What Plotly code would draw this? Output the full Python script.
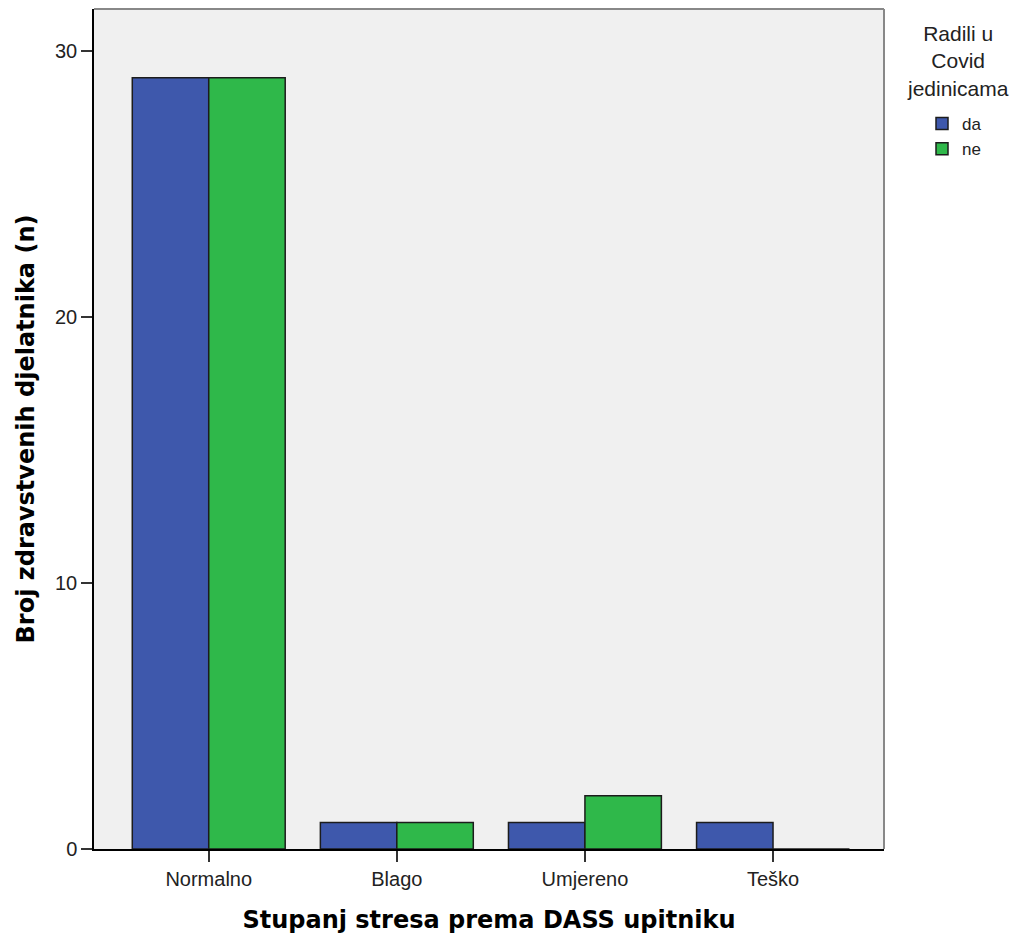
import plotly.graph_objects as go

categories = ["Normalno", "Blago", "Umjereno", "Teško"]
da_values = [29, 1, 1, 1]
ne_values = [29, 1, 2, 0]
series_names = ["da", "ne"]
y_ticks = [0, 10, 20, 30]
legend_title = "Radili u<br>Covid<br>jedinicama"

BLUE = "#3e58ac"
GREEN = "#2fb84a"
OUTLINE = "#1c1c1c"

# plot area in page pixels (page body has an 8px margin)
PL, PR, PT, PB = 94, 884, 9, 849
PW, PH = PR - PL, PB - PT

def px_x(px):
    return (px - PL) / PW

def px_y(py):
    return 1 - (py - PT) / PH

fig = go.Figure()
fig.add_trace(go.Bar(name=series_names[0], x=categories, y=da_values,
                     marker=dict(color=BLUE, line=dict(color=OUTLINE, width=1.5))))
fig.add_trace(go.Bar(name=series_names[1], x=categories, y=ne_values,
                     marker=dict(color=GREEN, line=dict(color=OUTLINE, width=1.5))))

fig.update_layout(
    width=1013, height=930,
    margin=dict(l=PL - 8, r=1021 - PR, t=PT - 8, b=938 - PB),
    paper_bgcolor="white",
    plot_bgcolor="#f0f0f0",
    barmode="group",
    bargap=0.187,
    bargroupgap=0,
    font=dict(family="Liberation Sans, Arial, sans-serif", color="#222"),
    xaxis=dict(
        range=[-0.61, 3.59],
        showline=True, linecolor="black", linewidth=1.5,
        ticks="outside", ticklen=11, tickwidth=1.5, tickcolor="#333",
        tickfont=dict(size=20, color="#222"),
        showgrid=False, zeroline=False,
        title=dict(text="Stupanj stresa prema DASS upitniku",
                   font=dict(family="DejaVu Sans", size=24, color="black", weight="bold"),
                   standoff=22),
    ),
    yaxis=dict(
        range=[0, 31.58],
        tickvals=y_ticks,
        showline=True, linecolor="black", linewidth=1.5,
        ticks="outside", ticklen=11, tickwidth=1.5, tickcolor="#333",
        tickfont=dict(size=20, color="#222"),
        showgrid=False, zeroline=False,
        title=dict(text="Broj zdravstvenih djelatnika (n)",
                   font=dict(family="DejaVu Sans", size=24, color="black", weight="bold"),
                   standoff=14),
    ),
    legend=dict(
        x=px_x(922), xanchor="left", y=px_y(106), yanchor="top",
        font=dict(size=17, color="#222"),
        bgcolor="rgba(0,0,0,0)",
        itemwidth=30,
        tracegroupgap=0,
    ),
    showlegend=True,
)

fig.add_annotation(
    text=legend_title, xref="paper", yref="paper", x=px_x(958), y=px_y(61),
    xanchor="center", yanchor="middle", showarrow=False, align="center",
    font=dict(size=21, color="#222"),
)

# gray top and right frame
fig.add_shape(type="line", xref="paper", yref="paper", x0=0, x1=1, y0=1, y1=1,
              line=dict(color="#888", width=2))
fig.add_shape(type="line", xref="paper", yref="paper", x0=1, x1=1, y0=0, y1=1,
              line=dict(color="#888", width=2))

fig.write_html("out.html")
